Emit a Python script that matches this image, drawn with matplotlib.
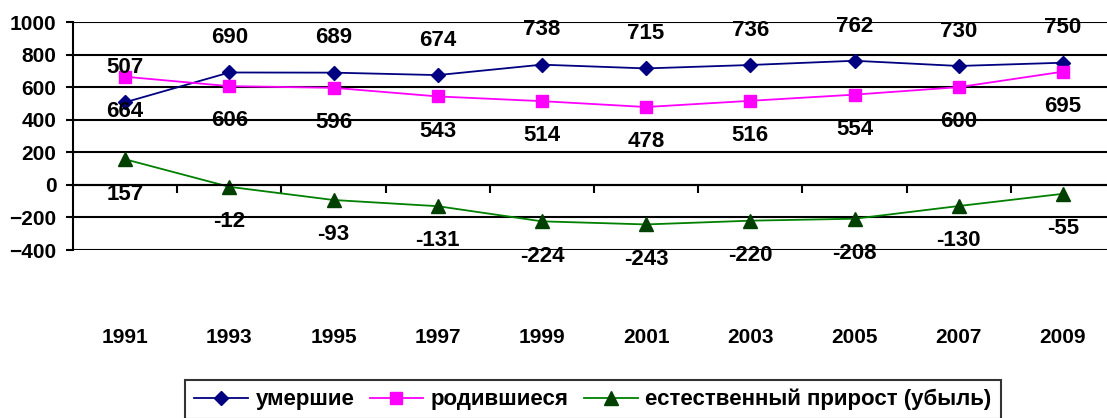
import matplotlib
matplotlib.use("Agg")
import matplotlib.pyplot as plt
from matplotlib.ticker import MultipleLocator, FixedLocator

years = ["1991", "1993", "1995", "1997", "1999", "2001", "2003", "2005", "2007", "2009"]
died = [507, 690, 689, 674, 738, 715, 736, 762, 730, 750]
born = [664, 606, 596, 543, 514, 478, 516, 554, 600, 695]
natural = [157, -12, -93, -131, -224, -243, -220, -208, -130, -55]

plt.rcParams['font.family'] = ['Liberation Sans', 'DejaVu Sans']
plt.rcParams['font.weight'] = 'bold'

W, H = 1107, 418
fig = plt.figure(figsize=(W / 100, H / 100), dpi=100)
ax = fig.add_axes([73 / W, 1 - 250 / H, 1 - 73 / W, (250 - 22) / H])

x = list(range(len(years)))
ax.set_ylim(-400, 1000)
ax.set_xlim(-0.5, (W - 73) / 104.2 - 0.5)

ax.yaxis.set_major_locator(MultipleLocator(200))
ax.grid(axis='y', color='black', linewidth=1.5)
ax.set_axisbelow(True)

for s in ['top', 'right']:
    ax.spines[s].set_visible(False)
ax.spines['left'].set_linewidth(1.5)
ax.spines['bottom'].set_position(('data', 0))
ax.spines['bottom'].set_linewidth(1.5)

ax.tick_params(axis='y', length=5, width=1.5, labelsize=15, pad=7)
for lab in ax.get_yticklabels():
    lab.set_fontweight('bold')

ax.set_xticks(x)
ax.set_xticklabels(years, fontsize=15, fontweight='bold')
ax.xaxis.set_minor_locator(FixedLocator([i + 0.5 for i in range(len(years))]))
ax.tick_params(axis='x', which='major', length=0, pad=103)
ax.tick_params(axis='x', which='minor', length=6, width=1.5, direction='out')

l1, = ax.plot(x, died, color='#000080', marker='D', markersize=7.5, linewidth=1.3,
              markerfacecolor='#000080', markeredgecolor='#000080', label='умершие', clip_on=False)
l2, = ax.plot(x, born, color='#FF00FF', marker='s', markersize=8.5, linewidth=1.3,
              markerfacecolor='#FF00FF', markeredgecolor='#FF00FF', label='родившиеся', clip_on=False)
l3, = ax.plot(x, natural, color='#008000', marker='^', markersize=9.5, linewidth=1.3,
              markerfacecolor='#004000', markeredgecolor='#004000',
              label='естественный прирост (убыль)', clip_on=False)

for xi, v in zip(x, died):
    ax.annotate(str(v), (xi, v), xytext=(0, 25), textcoords='offset points',
                ha='center', va='center', fontsize=16, fontweight='bold')
for xi, v in zip(x, born):
    ax.annotate(str(v), (xi, v), xytext=(0, -25), textcoords='offset points',
                ha='center', va='center', fontsize=16, fontweight='bold')
for xi, v in zip(x, natural):
    ax.annotate(str(v), (xi, v), xytext=(0, -25), textcoords='offset points',
                ha='center', va='center', fontsize=16, fontweight='bold')

leg = fig.legend(handles=[l1, l2, l3], loc='upper center', ncol=3,
                 bbox_to_anchor=(593 / W, 1 - 380 / H), frameon=True, fancybox=False,
                 edgecolor='black', prop={'size': 16, 'weight': 'bold'},
                 handlelength=2.4, handletextpad=0.35, columnspacing=0.7,
                 borderpad=0.4, borderaxespad=0)
leg.get_frame().set_linewidth(1.5)

fig.savefig('out.png', dpi=100)
